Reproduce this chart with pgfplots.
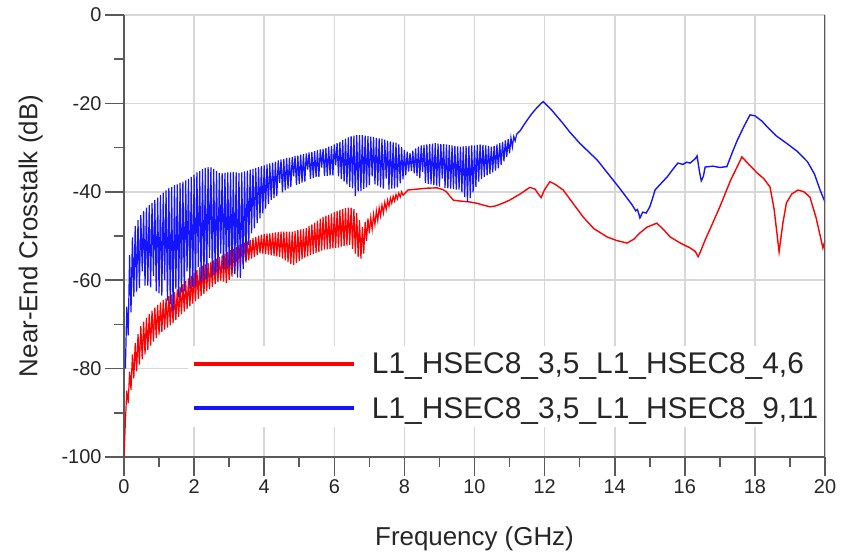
\documentclass[border=0pt]{standalone}
\usepackage{pgfplots}
\pgfplotsset{compat=1.18}
\usetikzlibrary{calc}
\usepackage{fontspec}
\setmainfont{Liberation Sans}
\definecolor{nextred}{RGB}{255,0,0}
\definecolor{nextblue}{RGB}{20,20,255}
\definecolor{axisgray}{RGB}{90,90,90}
\definecolor{gridgray}{RGB}{215,215,215}
\begin{document}
\begin{tikzpicture}
\begin{axis}[
  scale only axis,
  width=701bp, height=442bp,
  xmin=0, xmax=20, ymin=-100, ymax=0,
  xtick={0,2,...,20}, ytick={-100,-80,...,0},
  minor x tick num=1, minor y tick num=1,
  axis x line*=bottom, axis y line*=left,
  axis line style={-, line width=2bp, color=axisgray},
  tick align=outside,
  major tick length=19bp, minor tick length=10bp,
  every tick/.style={line width=1.6bp, color=axisgray},
  grid=major,
  major grid style={line width=1.6bp, color=gridgray},
  /pgf/number format/assume math mode=true,
  ticklabel style={font=\fontsize{20}{24}\selectfont, color=black!85},
  xlabel={Frequency (GHz)},
  ylabel={Near-End Crosstalk (dB)},
  xlabel shift=26bp, ylabel shift=12bp,
  label style={font=\fontsize{26}{30}\selectfont, color=black!85},
  legend image code/.code={\draw[#1, line width=4bp] (0bp,0bp) -- (160bp,0bp); \path (175bp,0bp);},
  legend style={at={(axis cs:1.83,-74.8)}, anchor=north west, draw=none, fill=white,
    font=\fontsize{30}{34}\selectfont, inner xsep=4bp, inner ysep=5bp,
    row sep=18bp, text=black!85},
  legend cell align=left,
]
% near-end crosstalk, pair 4,6: resonant ripple up to 8 GHz
\addplot[color=nextred, line width=1.2bp] coordinates {
(0,-100)(0.02,-96)(0.04,-92)(0.08,-85)(0.12,-87.8)(0.16,-80.7)(0.2,-84.8)(0.24,-76.8)(0.28,-82.2)(0.32,-74.2)
(0.36,-80.6)(0.4,-72.2)(0.44,-79.1)(0.48,-70.4)(0.52,-77.9)(0.56,-69.4)(0.6,-76.8)(0.64,-68.5)(0.68,-75.8)(0.72,-67.6)
(0.76,-74.8)(0.8,-66.9)(0.84,-73.9)(0.88,-66.2)(0.92,-73.1)(0.96,-65.6)(1.0,-72.3)(1.04,-65)(1.08,-71.7)(1.12,-64.5)
(1.16,-71.2)(1.2,-64.1)(1.24,-70.7)(1.28,-63.6)(1.32,-70.2)(1.36,-63.2)(1.4,-69.7)(1.44,-62.7)(1.48,-69)(1.52,-62.1)
(1.56,-68.3)(1.6,-61.5)(1.64,-67.7)(1.68,-60.9)(1.72,-67.1)(1.76,-60.2)(1.8,-66.5)(1.84,-59.6)(1.88,-65.9)(1.92,-59)
(1.96,-65.3)(2.0,-58.3)(2.04,-64.8)(2.08,-57.7)(2.12,-64.2)(2.16,-57.1)(2.2,-63.6)(2.24,-56.7)(2.28,-63.1)(2.32,-56.4)
(2.36,-62.5)(2.4,-56.1)(2.44,-62)(2.48,-55.8)(2.52,-61.5)(2.56,-55.5)(2.6,-60.9)(2.64,-55.1)(2.68,-60.4)(2.72,-54.8)
(2.76,-60.1)(2.8,-54.4)(2.84,-60.3)(2.88,-54)(2.92,-60.6)(2.96,-53.6)(3.0,-59.9)(3.04,-53.2)(3.08,-59.2)(3.12,-52.9)
(3.16,-58.5)(3.2,-52.5)(3.24,-57.6)(3.28,-52.1)(3.32,-56.9)(3.36,-51.8)(3.4,-56.4)(3.44,-51.5)(3.48,-56)(3.52,-51.2)
(3.56,-55.5)(3.6,-50.9)(3.64,-55.1)(3.68,-50.5)(3.72,-54.7)(3.76,-50.2)(3.8,-54.3)(3.84,-49.9)(3.88,-53.9)(3.92,-49.7)
(3.96,-54)(4.0,-49.6)(4.04,-54.1)(4.08,-49.5)(4.12,-54.2)(4.16,-49.4)(4.2,-54.4)(4.24,-49.3)(4.28,-54.5)(4.32,-49.2)
(4.36,-54.6)(4.4,-49.1)(4.44,-54.7)(4.48,-49)(4.52,-55.1)(4.56,-49)(4.6,-55.5)(4.64,-49)(4.68,-55.9)(4.72,-49)
(4.76,-56.3)(4.8,-49)(4.84,-56.5)(4.88,-48.9)(4.92,-56.1)(4.96,-48.7)(5.0,-55.7)(5.04,-48.5)(5.08,-55.3)(5.12,-48.4)
(5.16,-54.9)(5.2,-48.2)(5.24,-54.6)(5.28,-47.8)(5.32,-54.3)(5.36,-47.4)(5.4,-54.1)(5.44,-47)(5.48,-53.8)(5.52,-46.5)
(5.56,-53.6)(5.6,-46.1)(5.64,-53.3)(5.68,-45.7)(5.72,-53.1)(5.76,-45.4)(5.8,-53)(5.84,-45.2)(5.88,-52.9)(5.92,-44.9)
(5.96,-52.8)(6.0,-44.6)(6.04,-52.7)(6.08,-44.4)(6.12,-52.6)(6.16,-44.1)(6.2,-52.4)(6.24,-43.9)(6.28,-52.3)(6.32,-43.7)
(6.36,-52.2)(6.4,-43.6)(6.44,-52)(6.48,-43.6)(6.52,-52.9)(6.56,-43.9)(6.6,-54)(6.64,-44.8)(6.68,-54.7)(6.72,-46.4)
(6.76,-55.1)(6.8,-48)(6.84,-54)(6.88,-46.8)(6.92,-51.1)(6.96,-46)(7.0,-49.4)(7.04,-45.8)(7.08,-48.5)(7.12,-45.1)
(7.16,-47.4)(7.2,-44.3)(7.24,-46.5)(7.28,-43.6)(7.32,-45.5)(7.36,-43)(7.4,-44.8)(7.44,-42.4)(7.48,-44)(7.52,-41.9)
(7.56,-43.3)(7.6,-41.4)(7.64,-42.6)(7.68,-41)(7.72,-42.1)(7.76,-40.6)(7.8,-41.6)(7.84,-40.3)(7.88,-41.2)(7.92,-40)
(7.96,-40.8)
};
\addlegendentry{L1\_HSEC8\_3,5\_L1\_HSEC8\_4,6}
% pair 4,6 above 8 GHz
\addplot[color=nextred, line width=1.4bp, forget plot] coordinates {
(7.96,-40.8)(8.1,-39.6)(8.36,-39.4)(8.6,-39.2)(8.93,-39.1)(9.1,-39.5)(9.2,-40)(9.3,-41)(9.4,-41.9)(9.6,-42.1)
(9.87,-42.3)(10.07,-42.6)(10.25,-43)(10.44,-43.4)(10.6,-43.2)(10.8,-42.6)(11.0,-41.9)(11.3,-40.5)(11.58,-39)(11.73,-39.4)
(11.82,-40.5)(11.9,-41.3)(12.0,-39.5)(12.15,-37.7)(12.3,-38.3)(12.53,-39.6)(12.8,-42.5)(13.1,-45.7)(13.4,-48.3)(13.78,-50.2)
(14.05,-51)(14.35,-51.6)(14.55,-50.7)(14.72,-49.3)(14.92,-48)(15.2,-47.1)(15.4,-48.6)(15.58,-50.2)(15.85,-51.5)(16.15,-52.7)
(16.3,-53.5)(16.38,-54.7)(16.45,-53.5)(16.58,-50.9)(16.8,-47)(17.0,-43.4)(17.3,-37.5)(17.63,-32.1)(17.85,-34)(18.06,-35.7)
(18.25,-37)(18.43,-38.9)(18.55,-44)(18.69,-53.6)(18.8,-47)(18.9,-42.5)(19.05,-40.5)(19.23,-39.6)(19.4,-40)(19.57,-41.2)
(19.75,-46)(19.94,-52.7)(20,-51)
};
% near-end crosstalk, pair 9,11: resonant ripple up to 11.2 GHz
\addplot[color=nextblue, line width=1.2bp] coordinates {
(0.04,-80)(0.08,-66)(0.12,-72.5)(0.16,-54.3)(0.2,-67.3)(0.24,-50.3)(0.28,-63.7)(0.32,-47.7)(0.36,-62.6)(0.4,-46.4)
(0.44,-61.8)(0.48,-45.3)(0.52,-58)(0.56,-44.4)(0.6,-61.2)(0.64,-43.6)(0.68,-61.2)(0.72,-43)(0.76,-61.6)(0.8,-42.5)
(0.84,-59)(0.88,-41.9)(0.92,-62.5)(0.96,-41.3)(1.0,-63)(1.04,-40.7)(1.08,-63.5)(1.12,-40.2)(1.16,-60)(1.2,-39.7)
(1.24,-64.6)(1.28,-39.1)(1.32,-65.4)(1.36,-38.9)(1.4,-67)(1.44,-38.5)(1.48,-62)(1.52,-38.3)(1.56,-63.8)(1.6,-38)
(1.64,-62.8)(1.68,-37.7)(1.72,-62.5)(1.76,-37.4)(1.8,-58)(1.84,-37.1)(1.88,-61.9)(1.92,-36.6)(1.96,-61.5)(2.0,-36.1)
(2.04,-61.2)(2.08,-35.6)(2.12,-57)(2.16,-35.3)(2.2,-60.5)(2.24,-34.9)(2.28,-60.1)(2.32,-34.6)(2.36,-59.7)(2.4,-34.4)
(2.44,-55)(2.48,-34.5)(2.52,-59)(2.56,-34.8)(2.6,-58.6)(2.64,-35.3)(2.68,-58.3)(2.72,-35.7)(2.76,-54)(2.8,-35.8)
(2.84,-57.6)(2.88,-35.7)(2.92,-57.3)(2.96,-35.6)(3.0,-57)(3.04,-35.6)(3.08,-57.8)(3.12,-35.5)(3.16,-58.6)(3.2,-35.6)
(3.24,-59.4)(3.28,-35.8)(3.32,-59.5)(3.36,-35.6)(3.4,-57.5)(3.44,-35.4)(3.48,-55.5)(3.52,-35.2)(3.56,-52)(3.6,-35)
(3.64,-49.4)(3.68,-34.8)(3.72,-48.3)(3.76,-34.6)(3.8,-47.1)(3.84,-34.4)(3.88,-46)(3.92,-34.2)(3.96,-44.9)(4.0,-34)
(4.04,-43.8)(4.08,-33.8)(4.12,-42.7)(4.16,-33.6)(4.2,-41.8)(4.24,-33.4)(4.28,-41.4)(4.32,-33.2)(4.36,-41)(4.4,-32.9)
(4.44,-38)(4.48,-32.7)(4.52,-40.1)(4.56,-32.6)(4.6,-39.7)(4.64,-32.4)(4.68,-39.3)(4.72,-32.3)(4.76,-38.9)(4.8,-32.1)
(4.84,-36.5)(4.88,-31.9)(4.92,-38.4)(4.96,-31.8)(5.0,-38.2)(5.04,-31.6)(5.08,-37.9)(5.12,-31.5)(5.16,-37.7)(5.2,-31.3)
(5.24,-35)(5.28,-31.1)(5.32,-37.1)(5.36,-31)(5.4,-36.9)(5.44,-30.8)(5.48,-36.7)(5.52,-30.6)(5.56,-36.6)(5.6,-30.4)
(5.64,-34.5)(5.68,-30.3)(5.72,-36.4)(5.76,-30.1)(5.8,-36.4)(5.84,-29.8)(5.88,-36.3)(5.92,-29.6)(5.96,-36.3)(6.0,-29.3)
(6.04,-34)(6.08,-29)(6.12,-36.5)(6.16,-28.7)(6.2,-37.1)(6.24,-28.3)(6.28,-37.7)(6.32,-28)(6.36,-38.3)(6.4,-27.7)
(6.44,-38.9)(6.48,-27.4)(6.52,-39.2)(6.56,-27.3)(6.6,-41)(6.64,-27.2)(6.68,-39.9)(6.72,-27.2)(6.76,-39.8)(6.8,-27.2)
(6.84,-39.4)(6.88,-27.3)(6.92,-39)(6.96,-27.4)(7.0,-38.5)(7.04,-27.5)(7.08,-36.5)(7.12,-27.6)(7.16,-38.3)(7.2,-27.8)
(7.24,-38.6)(7.28,-27.9)(7.32,-39)(7.36,-28)(7.4,-39.3)(7.44,-28.2)(7.48,-37)(7.52,-28.4)(7.56,-39.5)(7.6,-28.6)
(7.64,-39.3)(7.68,-28.8)(7.72,-39.2)(7.76,-28.9)(7.8,-39)(7.84,-29.3)(7.88,-38.1)(7.92,-29.9)(7.96,-37.2)(8.0,-30.5)
(8.04,-36.3)(8.08,-30.9)(8.12,-35.4)(8.16,-31.2)(8.2,-35.3)(8.24,-30.7)(8.28,-35.8)(8.32,-30.2)(8.36,-36.4)(8.4,-29.8)
(8.44,-36.9)(8.48,-29.5)(8.52,-35.5)(8.56,-29.4)(8.6,-38)(8.64,-29.3)(8.68,-38.2)(8.72,-29.2)(8.76,-38.3)(8.8,-29.1)
(8.84,-38.5)(8.88,-29)(8.92,-38.6)(8.96,-29.1)(9.0,-38.8)(9.04,-29.2)(9.08,-37)(9.12,-29.2)(9.16,-39.1)(9.2,-29.3)
(9.24,-39.2)(9.28,-29.4)(9.32,-39.3)(9.36,-29.5)(9.4,-39.4)(9.44,-29.6)(9.48,-39.5)(9.52,-29.7)(9.56,-39.5)(9.6,-29.8)
(9.64,-40.1)(9.68,-29.7)(9.72,-41.2)(9.76,-29.6)(9.8,-42.3)(9.84,-29.6)(9.88,-41.4)(9.92,-29.5)(9.96,-40.1)(10.0,-29.5)
(10.04,-38.9)(10.08,-29.4)(10.12,-37.7)(10.16,-29.3)(10.2,-37.1)(10.24,-29.4)(10.28,-36.7)(10.32,-29.5)(10.36,-36.3)(10.4,-29.6)
(10.44,-36)(10.48,-29.8)(10.52,-35.6)(10.56,-29.6)(10.6,-35.2)(10.64,-29.3)(10.68,-34.7)(10.72,-29)(10.76,-33.9)(10.8,-28.7)
(10.84,-33.1)(10.88,-28.4)(10.92,-32.1)(10.96,-28.1)(11.0,-31.3)(11.04,-27.8)(11.08,-29.9)(11.12,-27.5)(11.16,-28.5)(11.2,-27)
};
\addlegendentry{L1\_HSEC8\_3,5\_L1\_HSEC8\_9,11}
% pair 9,11 above 11.2 GHz
\addplot[color=nextblue, line width=1.4bp, forget plot] coordinates {
(11.2,-27)(11.3,-26.2)(11.4,-25)(11.5,-23.8)(11.6,-22.7)(11.7,-21.7)(11.8,-20.8)(11.9,-20)(11.96,-19.6)(12.05,-20.3)
(12.2,-21.5)(12.35,-22.9)(12.5,-24.3)(12.72,-26.5)(13.0,-29)(13.25,-30.9)(13.5,-32.8)(13.75,-35.3)(13.95,-37.3)(14.15,-39.3)
(14.35,-41.4)(14.5,-43)(14.6,-44.3)(14.65,-44)(14.72,-45.9)(14.8,-44.6)(14.9,-44.8)(15.0,-43.4)(15.08,-41.5)(15.15,-39.6)
(15.3,-38.3)(15.5,-36.6)(15.65,-35)(15.8,-33.5)(15.95,-33.8)(16.05,-33.3)(16.15,-33.5)(16.3,-32.5)(16.35,-31.9)(16.42,-35.5)
(16.47,-37.5)(16.53,-36.5)(16.58,-34.4)(16.8,-34.2)(17.0,-34.5)(17.2,-34.3)(17.35,-31.2)(17.5,-28.3)(17.7,-25)(17.86,-22.6)
(18.0,-22.8)(18.2,-24)(18.35,-25.3)(18.6,-27.3)(18.9,-29)(19.2,-30.8)(19.5,-33.2)(19.7,-36)(19.86,-39.6)(20,-42.3)
};
% closing frame line on the right
\draw[line width=2bp, color=axisgray] (rel axis cs:1,0) -- (rel axis cs:1,1);
\end{axis}
\pgfresetboundingbox
\path[use as bounding box] ($(current axis.south west)+(-124bp,-100bp)$) rectangle ($(current axis.north east)+(16bp,15bp)$);
\end{tikzpicture}
\end{document}
